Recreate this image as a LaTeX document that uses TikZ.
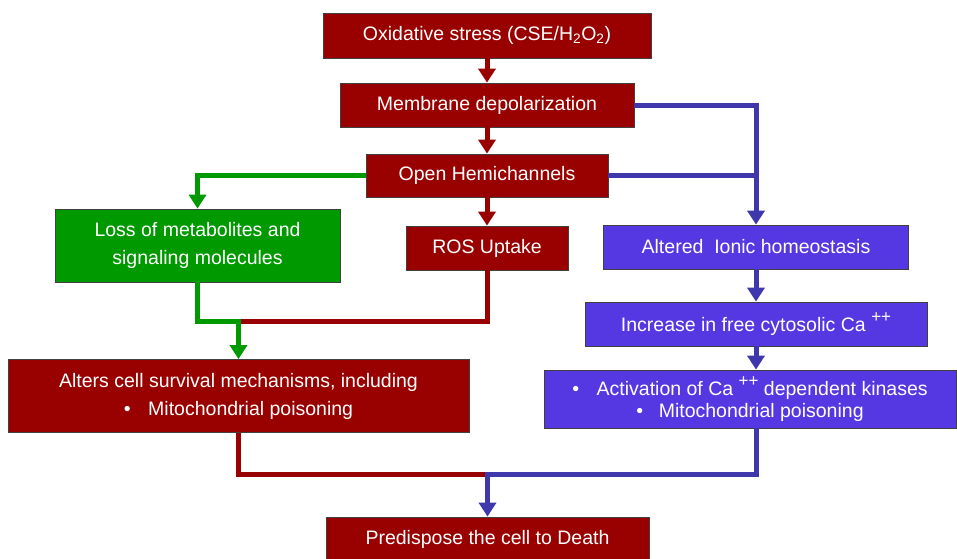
\documentclass[tikz,border=0pt]{standalone}
\usepackage{fontspec}
\setmainfont{Liberation Sans}
\usepackage{xcolor}
\usepackage{tikz}
\usetikzlibrary{arrows.meta,positioning}

\definecolor{boxred}{RGB}{153,0,0}
\definecolor{boxgreen}{RGB}{0,153,0}
\definecolor{boxblue}{RGB}{86,56,226}
\definecolor{lineblue}{RGB}{62,56,172}

\newcommand{\plusplus}{\raisebox{0.45em}{\fontsize{17}{17}\selectfont ++}}

\tikzset{
  box/.style={draw=black!75, line width=0.8pt, text=white, inner sep=0pt,
    align=center, font=\fontsize{19.5}{23}\selectfont},
  redbox/.style={box, fill=boxred},
  greenbox/.style={box, fill=boxgreen},
  bluebox/.style={box, fill=boxblue},
  link/.style={line width=5pt, -{Triangle[width=17pt,length=14pt]}},
  plain/.style={line width=5pt}
}

\begin{document}
\begin{tikzpicture}[x=1pt,y=-1pt]
    \useasboundingbox (0,0) rectangle (957,558);
    \node[redbox, minimum width=328pt, minimum height=45pt] (ox) at (487,35.5)
      {Oxidative stress (CSE/H\textsubscript{2}O\textsubscript{2})};
    \node[redbox, minimum width=294pt, minimum height=44pt] (mem) at (487,105)
      {Membrane depolarization};
    \node[redbox, minimum width=242pt, minimum height=43pt] (hemi) at (487,175.5)
      {Open Hemichannels};
    \node[greenbox, minimum width=285pt, minimum height=73pt,
      font=\fontsize{19.5}{28}\selectfont] (loss) at (197.5,245.5)
      {Loss of metabolites and\\signaling molecules};
    \node[redbox, minimum width=162pt, minimum height=44pt] (ros) at (487,248)
      {ROS Uptake};
    \node[bluebox, minimum width=305pt, minimum height=44pt] (ion) at (756,247)
      {Altered\ \ Ionic homeostasis};
    \node[bluebox, minimum width=342pt, minimum height=44pt] (incr) at (756,324)
      {Increase in free cytosolic Ca \plusplus};
    \node[bluebox, minimum width=412pt, minimum height=58pt,
      font=\fontsize{19.5}{22}\selectfont] (act) at (750,399)
      {\textbullet\hspace{0.9em}Activation of Ca \plusplus\ dependent kinases\\
       \textbullet\hspace{0.8em}Mitochondrial poisoning};
    \node[redbox, minimum width=461pt, minimum height=73pt,
      font=\fontsize{19.5}{28}\selectfont] (alters) at (238.5,396)
      {Alters cell survival mechanisms, including\\
       \textbullet\hspace{0.9em}Mitochondrial poisoning\hspace{1em}};
    \node[redbox, minimum width=323pt, minimum height=45pt] (death) at (487.5,539.5)
      {Predispose the cell to Death};

    \coordinate (j1) at (238.5,321);
    \coordinate (j2) at (487.5,474);

    \draw[link, boxred] (ox) -- (mem);
    \draw[link, boxred] (mem) -- (hemi);
    \draw[link, boxred] (hemi) -- (ros);
    \draw[plain, boxred] (ros.south) |- (j1);
    \draw[plain, boxred] (alters.south) |- (j2);
    \draw[link, boxgreen] (hemi.west) -| (loss.north);
    \draw[link, boxgreen] (loss.south) |- (j1) -- (alters.north);
    \draw[link, lineblue] (mem.east) -| (ion.north);
    \draw[plain, lineblue] (hemi.east) -- (hemi.east -| ion.north);
    \draw[link, lineblue] (ion) -- (incr);
    \draw[link, lineblue] (incr) -- (act.north -| incr);
    \draw[link, lineblue] (act.south -| incr) |- (j2) -- (death.north);
  \end{tikzpicture}
\end{document}
